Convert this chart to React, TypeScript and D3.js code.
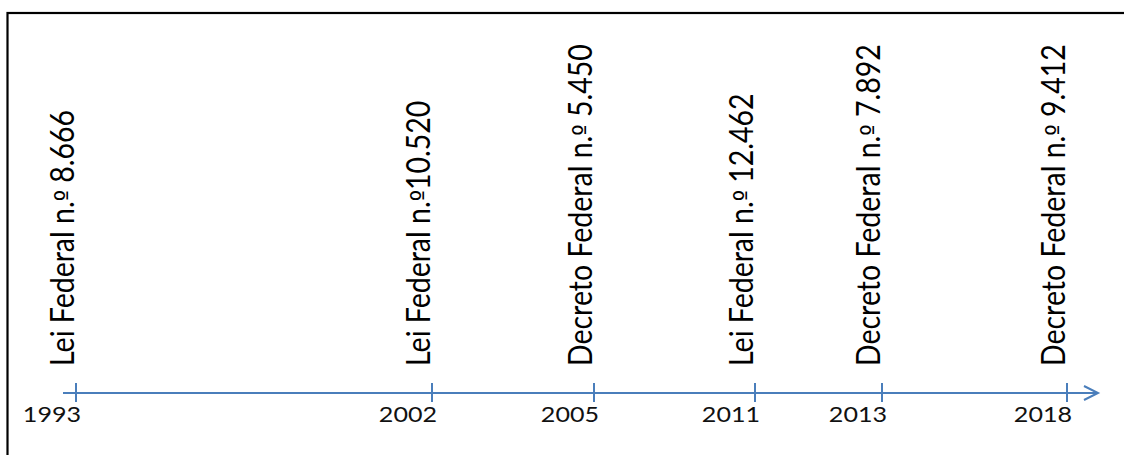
import { useEffect, useRef } from 'react'
import * as d3 from 'd3'

// timeline events
const years = [1993, 2002, 2005, 2011, 2013, 2018]
const laws = [
  'Lei Federal n.º 8.666',
  'Lei Federal n.º10.520',
  'Decreto Federal n.º 5.450',
  'Lei Federal n.º 12.462',
  'Decreto Federal n.º 7.892',
  'Decreto Federal n.º 9.412',
]

const App = () => {
  const svgRef = useRef<SVGSVGElement>(null)

  useEffect(() => {
    if (!svgRef.current) return

    const width = 1124
    const height = 455
    const axisY = 393
    const blue = '#4a7ebb'
    const font = 'Lato, "Open Sans", sans-serif'

    const svg = d3.select(svgRef.current)
    svg.selectAll('*').remove()
    svg.attr('width', width).attr('height', height)

    // events are spaced by hand in the original, so piecewise scale
    const x = d3.scaleLinear()
      .domain(years)
      .range([76, 432, 594, 755, 882, 1067])

    // frame
    svg.append('rect')
      .attr('x', 7.5)
      .attr('y', 13)
      .attr('width', width + 20)
      .attr('height', height + 20)
      .attr('fill', 'white')
      .attr('stroke', '#000')
      .attr('stroke-width', 2.2)

    const g = svg.append('g')

    // axis line with open arrow
    g.append('line')
      .attr('x1', x(1993) - 13)
      .attr('x2', 1098)
      .attr('y1', axisY)
      .attr('y2', axisY)
      .attr('stroke', blue)
      .attr('stroke-width', 2)

    g.append('path')
      .attr('d', `M1084,${axisY - 7}L1098,${axisY}L1084,${axisY + 7}`)
      .attr('fill', 'none')
      .attr('stroke', blue)
      .attr('stroke-width', 2)

    // ticks
    g.selectAll('.tick')
      .data(years)
      .enter()
      .append('line')
      .attr('class', 'tick')
      .attr('x1', d => x(d))
      .attr('x2', d => x(d))
      .attr('y1', axisY - 10)
      .attr('y2', axisY + 9)
      .attr('stroke', blue)
      .attr('stroke-width', 2)

    // year labels
    g.selectAll('.year')
      .data(years)
      .enter()
      .append('text')
      .attr('class', 'year')
      .attr('transform', d => `translate(${x(d) + 5},422) scale(1.14,1)`)
      .attr('text-anchor', 'end')
      .attr('font-family', font)
      .attr('font-size', '22px')
      .attr('fill', '#111')
      .text(d => d)

    // law labels, rotated; the ordinal sign gets a font that underlines it
    g.selectAll('.law')
      .data(years)
      .enter()
      .append('text')
      .attr('class', 'law')
      .attr('transform', d => `translate(${x(d) - 2},366) scale(1.12,1) rotate(-90)`)
      .attr('text-anchor', 'start')
      .attr('font-family', font)
      .attr('font-size', '28.5px')
      .attr('fill', '#000')
      .each(function (d, i) {
        const parts = laws[i].split('º')
        const t = d3.select(this)
        t.append('tspan').text(parts[0])
        t.append('tspan')
          .attr('font-family', '"DejaVu Sans", sans-serif')
          .attr('font-size', '24px')
          .text('º')
        t.append('tspan').text(parts[1])
      })
  }, [])

  return (
    <div style={{ position: 'absolute', left: 0, top: 0 }}>
      <svg ref={svgRef} style={{ display: 'block' }}></svg>
    </div>
  )
}

export default App
